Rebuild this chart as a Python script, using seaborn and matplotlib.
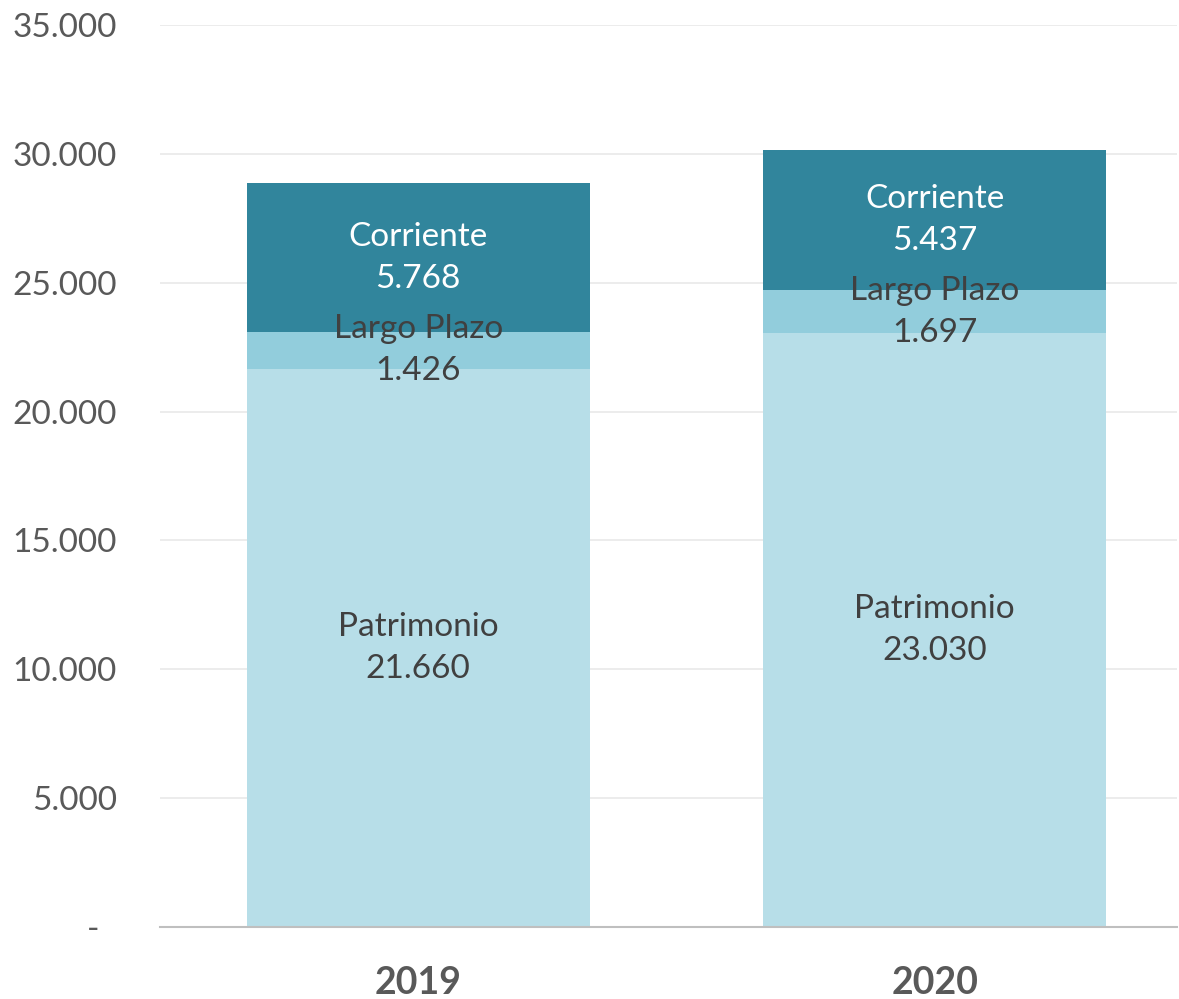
import numpy as np
import matplotlib.pyplot as plt
import pandas as pd
import seaborn as sns

# Data
years = ['2019', '2020']
patrimonio = [21660, 23030]
largo_plazo = [1426, 1697]
corriente = [5768, 5437]

sns.set_style('white')
plt.rcParams['font.family'] = ['Lato', 'DejaVu Sans']

DF = pd.DataFrame({'year': years, 'Patrimonio': patrimonio,
                   'Largo Plazo': largo_plazo, 'Corriente': corriente})
DF['lp_top'] = DF['Patrimonio'] + DF['Largo Plazo']
DF['total'] = DF['lp_top'] + DF['Corriente']

fig = plt.figure(figsize=(11.79, 9.99), dpi=100)
ax = fig.add_axes([0.1357, 0.0721, 0.863, 0.9029])

# stacked bars drawn as overlapping cumulative layers
w = 0.665
sns.barplot(data=DF, x='year', y='total', color='#31859C', width=w, saturation=1,
            linewidth=0, ax=ax)
sns.barplot(data=DF, x='year', y='lp_top', color='#92CDDC', width=w, saturation=1,
            linewidth=0, ax=ax)
sns.barplot(data=DF, x='year', y='Patrimonio', color='#B7DEE8', width=w, saturation=1,
            linewidth=0, ax=ax)

# segment labels
fs = 24
ls = 1.5
for i, row in DF.iterrows():
    ax.text(i, row['Patrimonio'] / 2, 'Patrimonio\n' + f"{row['Patrimonio']:,}".replace(',', '.'),
            ha='center', va='center', fontsize=fs, color='#404040', linespacing=ls)
    ax.text(i, row['Patrimonio'] + row['Largo Plazo'] / 2,
            'Largo Plazo\n' + f"{row['Largo Plazo']:,}".replace(',', '.'),
            ha='center', va='center', fontsize=fs, color='#404040', linespacing=ls)
    ax.text(i, row['lp_top'] + row['Corriente'] / 2,
            'Corriente\n' + f"{row['Corriente']:,}".replace(',', '.'),
            ha='center', va='center', fontsize=fs, color='white', linespacing=ls)

ax.set_xlim(-0.5, 1.47)
ax.set_ylim(0, 35000)
yt = np.arange(0, 35001, 5000)
ax.set_yticks(yt)
ax.set_yticklabels(['-  '] + [f'{v:,}'.replace(',', '.') for v in yt[1:]],
                   fontsize=24, color='#595959')
ax.tick_params(axis='y', length=0, pad=31)
ax.tick_params(axis='x', length=0, pad=28)
for lab in ax.get_xticklabels():
    lab.set_fontsize(27)
    lab.set_fontweight('bold')
    lab.set_color('#595959')

ax.yaxis.grid(True, color='#EBEBEB', linewidth=1.3)
ax.set_axisbelow(True)
for s in ['left', 'right', 'top']:
    ax.spines[s].set_visible(False)
ax.spines['bottom'].set_color('#BFBFBF')
ax.spines['bottom'].set_linewidth(1.5)
ax.set(xlabel='', ylabel='')

fig.savefig('out.png', dpi=100)
